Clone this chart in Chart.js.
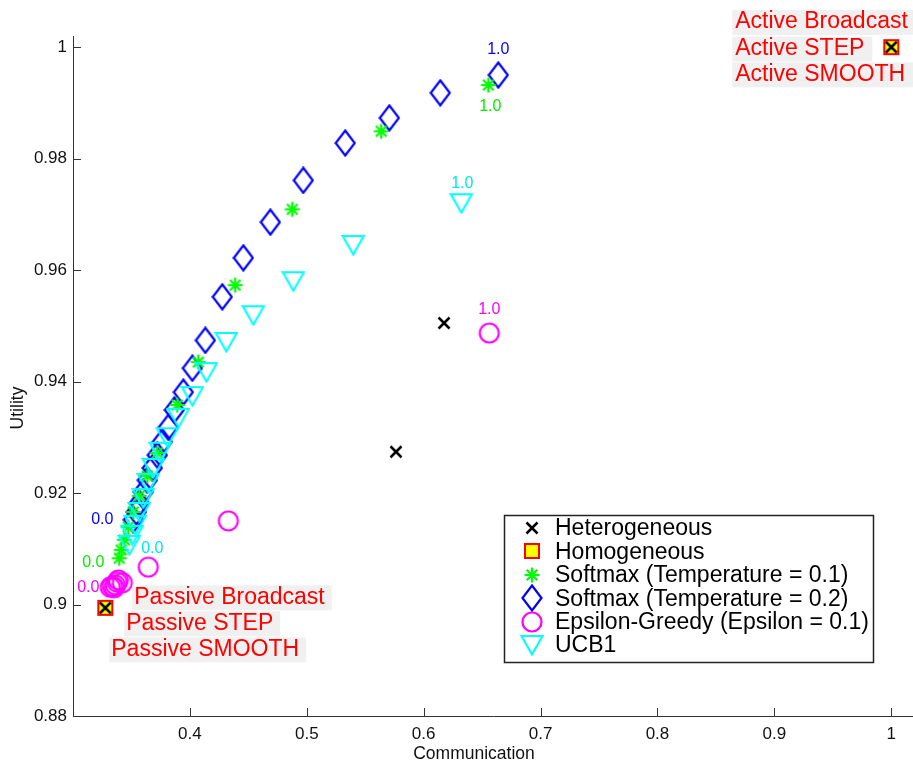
<!DOCTYPE html>
<html><head><meta charset="utf-8">
<script src="https://cdn.jsdelivr.net/npm/chart.js@4.4.0/dist/chart.umd.min.js"></script>
<style>html,body{margin:0;padding:0;background:#fff;}#wrap{width:913px;height:763px;position:relative;overflow:hidden;}</style>
</head><body><div id="wrap"><canvas id="c" width="913" height="763"></canvas></div>
<script>
// ---------- DATA ----------
const xTicks = [0.4, 0.5, 0.6, 0.7, 0.8, 0.9, 1.0];
const yTicks = [0.88, 0.90, 0.92, 0.94, 0.96, 0.98, 1.00];
const xTitle = 'Communication';
const yTitle = 'Utility';
const seriesNames = ['Heterogeneous', 'Homogeneous', 'Softmax (Temperature = 0.1)', 'Softmax (Temperature = 0.2)', 'Epsilon-Greedy (Epsilon = 0.1)', 'UCB1'];

const heteroX = [0.6174, 0.5763, 0.3276, 1.0];
const heteroY = [0.9505, 0.9274, 0.8994, 1.0];

const homoX = [0.3276, 1.0];
const homoY = [0.8994, 1.0];

const soft01X = [0.6553, 0.5637, 0.4876, 0.4388, 0.4072, 0.3892, 0.3721, 0.3636, 0.3567, 0.3516, 0.3473, 0.3439, 0.3413, 0.3396];
const soft01Y = [0.9932, 0.9849, 0.9709, 0.9573, 0.9435, 0.9358, 0.9272, 0.9231, 0.9195, 0.9166, 0.9139, 0.9116, 0.9098, 0.9083];

const soft02X = [0.6638, 0.6142, 0.5706, 0.5329, 0.4970, 0.4688, 0.4457, 0.4277, 0.4132, 0.4021, 0.3944, 0.3867, 0.3815, 0.3764, 0.3721, 0.3678, 0.3636, 0.3601, 0.3567, 0.3542, 0.3516];
const soft02Y = [0.9950, 0.9918, 0.9873, 0.9828, 0.9761, 0.9686, 0.9622, 0.9552, 0.9474, 0.9424, 0.9381, 0.9349, 0.9318, 0.9292, 0.9268, 0.9245, 0.9223, 0.9202, 0.9182, 0.9166, 0.9152];

const epsX = [0.6561, 0.4329, 0.3644, 0.3422, 0.3388, 0.3379, 0.3362, 0.3353, 0.3319, 0.3336];
const epsY = [0.9487, 0.9150, 0.9067, 0.9039, 0.9044, 0.9040, 0.9035, 0.9030, 0.9031, 0.9033];

const ucbX = [0.6322, 0.5398, 0.4885, 0.4543, 0.4312, 0.4141, 0.4022, 0.3902, 0.3807, 0.3747, 0.3687, 0.3644, 0.3601, 0.3567, 0.3533, 0.3507, 0.3482];
const ucbY = [0.9720, 0.9645, 0.9580, 0.9519, 0.9471, 0.9417, 0.9374, 0.9335, 0.9300, 0.9274, 0.9245, 0.9218, 0.9191, 0.9166, 0.9143, 0.9125, 0.9107];

const endLabels = ['1.0', '0.0'];
const activeLabels = ['Active Broadcast', 'Active STEP', 'Active SMOOTH'];
const passiveLabels = ['Passive Broadcast', 'Passive STEP', 'Passive SMOOTH'];

// ---------- STYLE ----------
const FONT = '"Liberation Sans", Arial, Helvetica, sans-serif';
const AXIS_COLOR = '#333';
function marker(w, h, fn) { const c = document.createElement('canvas'); c.width = w; c.height = h; const g = c.getContext('2d'); fn(g, w, h); return c; }
const M = {
  hetero: marker(16, 16, g => { g.strokeStyle = '#000'; g.lineWidth = 2.5; g.beginPath(); g.moveTo(2.5, 2.5); g.lineTo(13.5, 13.5); g.moveTo(13.5, 2.5); g.lineTo(2.5, 13.5); g.stroke(); }),
  homo: marker(18, 18, g => { g.fillStyle = '#ffff00'; g.fillRect(2, 2, 14, 14); g.strokeStyle = '#ff0000'; g.lineWidth = 2; g.strokeRect(2, 2, 14, 14); }),
  soft01: marker(18, 18, g => { g.strokeStyle = '#00ff00'; g.lineWidth = 2.2; g.beginPath(); g.moveTo(1.5, 9); g.lineTo(16.5, 9); g.moveTo(9, 1.5); g.lineTo(9, 16.5); g.moveTo(3.7, 3.7); g.lineTo(14.3, 14.3); g.moveTo(14.3, 3.7); g.lineTo(3.7, 14.3); g.stroke(); }),
  soft02: marker(22, 28, g => { g.strokeStyle = '#0000ff'; g.lineWidth = 2.2; g.beginPath(); g.moveTo(11, 1.5); g.lineTo(20.5, 14); g.lineTo(11, 26.5); g.lineTo(1.5, 14); g.closePath(); g.stroke(); }),
  eps: marker(24, 24, g => { g.strokeStyle = '#ff00ff'; g.lineWidth = 2.2; g.beginPath(); g.arc(12, 12, 9.5, 0, Math.PI * 2); g.stroke(); }),
  ucb: marker(24, 22, g => { g.strokeStyle = '#00ffff'; g.lineWidth = 2.1; g.beginPath(); g.moveTo(1.5, 2); g.lineTo(22.5, 2); g.lineTo(12, 20.5); g.closePath(); g.stroke(); })
};
const labelStyle = {
  2: { color: '#00ee00', off: [[2, 22], [-26, 4]] },
  3: { color: '#0000ff', off: [[0, -25], [-31, 0]] },
  4: { color: '#ff00ff', off: [[0, -23], [-24, 1]] },
  5: { color: '#00e5ee', off: [[1, -20], [23, 4]] }
};

const pts = (xs, ys) => xs.map((v, i) => ({ x: v, y: ys[i] }));
const mkDs = (i, xs, ys, style, order) => ({ label: seriesNames[i], data: pts(xs, ys), pointStyle: style, pointRadius: 9, pointHoverRadius: 9, order: order, clip: false, showLine: false });

const decor = {
  id: 'decor',
  beforeDraw(chart) { const c = chart.ctx; c.save(); c.fillStyle = '#fff'; c.fillRect(0, 0, chart.width, chart.height); c.restore(); },
  afterDraw(chart) {
    const { ctx, chartArea: a, scales: { x, y } } = chart;
    ctx.save();
    // inward ticks
    ctx.strokeStyle = AXIS_COLOR; ctx.lineWidth = 1; ctx.beginPath();
    xTicks.forEach(v => { const px = Math.round(x.getPixelForValue(v)) + 0.5; ctx.moveTo(px, a.bottom); ctx.lineTo(px, a.bottom - 8); });
    yTicks.forEach(v => { const py = Math.round(y.getPixelForValue(v)) + 0.5; ctx.moveTo(a.left, py); ctx.lineTo(a.left + 8, py); });
    ctx.stroke();
    // axis titles
    ctx.fillStyle = '#111'; ctx.font = '17.5px ' + FONT; ctx.textAlign = 'center'; ctx.textBaseline = 'middle';
    ctx.fillText(xTitle, 474, 754);
    ctx.save(); ctx.translate(18, 408); ctx.rotate(-Math.PI / 2); ctx.fillText(yTitle, 0, 0); ctx.restore();
    // end labels
    ctx.font = '16px ' + FONT;
    Object.keys(labelStyle).forEach(k => {
      const meta = chart.getDatasetMeta(+k); const st = labelStyle[k]; const n = meta.data.length;
      [0, n - 1].forEach((idx, j) => {
        const p = meta.data[idx]; ctx.fillStyle = st.color;
        ctx.fillText(endLabels[j], p.x + st.off[j][0], p.y + st.off[j][1]);
      });
    });
    // annotations
    ctx.font = '23px ' + FONT; ctx.textAlign = 'left'; ctx.textBaseline = 'alphabetic';
    const hm = chart.getDatasetMeta(1).data;
    const drawAnn = (labels, anchor, offs, padL, padR) => {
      labels.forEach((t, i) => {
        const tx = anchor.x + offs[i][0], ty = anchor.y + offs[i][1];
        const w = ctx.measureText(t).width;
        ctx.fillStyle = '#f0f0f0'; ctx.fillRect(tx - padL, ty - 18.5, w + padL + padR, 25);
        ctx.fillStyle = '#ff0000'; ctx.fillText(t, tx, ty);
      });
    };
    drawAnn(activeLabels, hm[1], [[-156, -18.7], [-156, 8], [-156, 33.7]], 3, 8);
    drawAnn(passiveLabels, hm[0], [[29, -4], [21, 22], [6, 48]], 2, 7);
    // legend
    const L = { x: 504.5, y: 515.5, w: 369, h: 147, row0: 528, dy: 23.4, mx: 532, tx: 555 };
    ctx.fillStyle = '#fff'; ctx.fillRect(L.x, L.y, L.w, L.h);
    ctx.strokeStyle = '#222'; ctx.lineWidth = 1.5; ctx.strokeRect(L.x, L.y, L.w, L.h);
    ctx.font = '23px ' + FONT; ctx.textBaseline = 'middle'; ctx.fillStyle = '#000';
    chart.data.datasets.forEach((ds, i) => {
      const ry = L.row0 + i * L.dy; const img = ds.pointStyle;
      ctx.drawImage(img, Math.round(L.mx - img.width / 2), Math.round(ry - img.height / 2));
      ctx.fillStyle = '#000'; ctx.fillText(ds.label, L.tx, ry + 1);
    });
    ctx.restore();
  }
};

new Chart(document.getElementById('c'), {
  type: 'scatter',
  data: {
    datasets: [
      mkDs(0, heteroX, heteroY, M.hetero, 0),
      mkDs(1, homoX, homoY, M.homo, 1),
      mkDs(2, soft01X, soft01Y, M.soft01, 4),
      mkDs(3, soft02X, soft02Y, M.soft02, 5),
      mkDs(4, epsX, epsY, M.eps, 3),
      mkDs(5, ucbX, ucbY, M.ucb, 2)
    ]
  },
  options: {
    responsive: false, animation: false, devicePixelRatio: 1,
    layout: { autoPadding: false, padding: { top: 36, left: 0, right: 0, bottom: 0 } },
    plugins: { legend: { display: false }, tooltip: { enabled: false }, title: { display: false } },
    scales: {
      x: {
        type: 'linear', min: 0.3, max: 1.0186,
        afterBuildTicks: s => { s.ticks = xTicks.map(v => ({ value: v })); },
        afterFit: s => { s.height = 47; s.paddingLeft = 0; s.paddingRight = 0; },
        grid: { display: false, drawTicks: false },
        border: { display: true, color: AXIS_COLOR, width: 1 },
        ticks: { font: { family: FONT, size: 17 }, color: '#111', padding: 8, maxRotation: 0, autoSkip: false, callback: v => String(+(+v).toFixed(2)) }
      },
      y: {
        type: 'linear', min: 0.88, max: 1.002,
        afterBuildTicks: s => { s.ticks = yTicks.map(v => ({ value: v })); },
        afterFit: s => { s.width = 73; s.paddingTop = 0; s.paddingBottom = 0; },
        grid: { display: false, drawTicks: false },
        border: { display: true, color: AXIS_COLOR, width: 1 },
        ticks: { font: { family: FONT, size: 17 }, color: '#111', padding: 6, autoSkip: false, callback: v => String(+(+v).toFixed(2)) }
      }
    }
  },
  plugins: [decor]
});
</script>
</body></html>
